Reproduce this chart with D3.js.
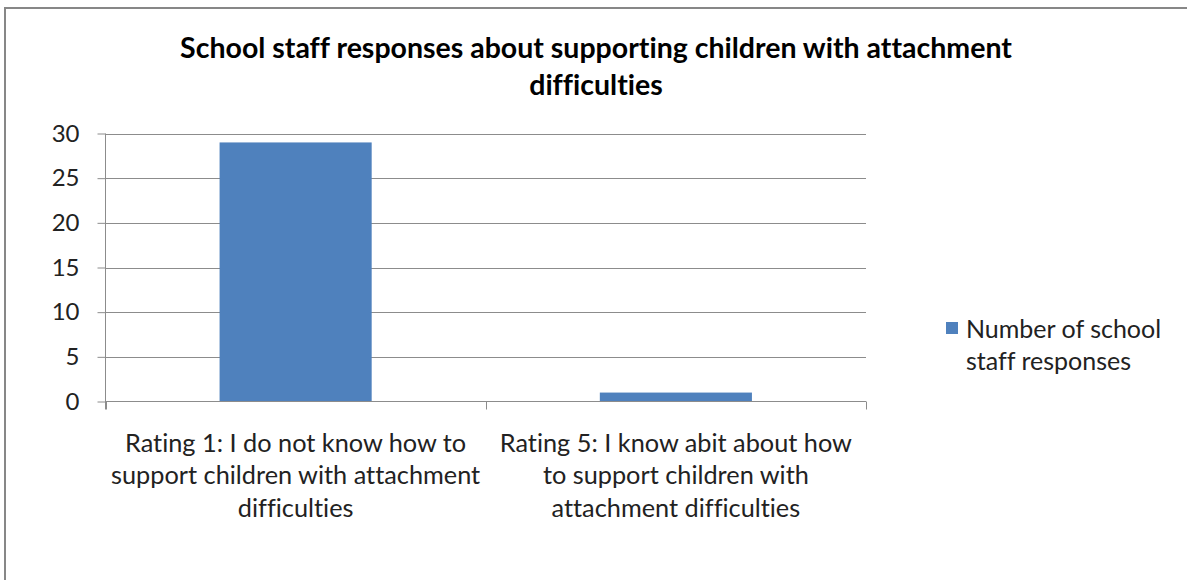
<!DOCTYPE html>
<html><head><meta charset="utf-8">
<script src="https://cdn.jsdelivr.net/npm/d3@7"></script>
<style>body{margin:0;background:#fff}svg{display:block}text{font-family:Lato,"Open Sans",sans-serif;font-variant-ligatures:none;font-feature-settings:"liga" 0,"clig" 0}</style>
</head><body><svg id="c" width="1187" height="580"></svg>
<script>
const titleLines = ["School staff responses about supporting children with attachment", "difficulties"];
const categories = ["Rating 1: I do not know how to support children with attachment difficulties", "Rating 5: I know abit about how to support children with attachment difficulties"];
const categoryLines = [["Rating 1: I do not know how to", "support children with attachment", "difficulties"], ["Rating 5: I know abit about how", "to support children with", "attachment difficulties"]];
const seriesName = "Number of school staff responses";
const legendLines = ["Number of school", "staff responses"];
const values = [29, 1];
const yTicks = [0, 5, 10, 15, 20, 25, 30];

const svg = d3.select("#c");
// chart border
svg.append("path").attr("d", "M5,580 V8 H1187").attr("fill", "none").attr("stroke", "#878787").attr("stroke-width", 2);

const x0 = 105.5, x1 = 866, yTop = 133.5, yBot = 401.5;
const x = d3.scaleBand().domain(categories).range([x0, x1]).paddingInner(0.6).paddingOuter(0.3);
const y = d3.scaleLinear().domain([0, 30]).range([yBot, yTop]);

// title
svg.append("text").attr("x", 596).attr("y", 58).attr("text-anchor", "middle")
  .style("font-size", "28.5px").style("font-weight", "bold").attr("fill", "#000")
  .selectAll("tspan").data(titleLines).join("tspan").attr("x", 596).attr("dy", (d, i) => i ? 37 : 0).text(d => d);

// gridlines
svg.append("g").selectAll("line").data(yTicks.filter(d => d > 0)).join("line")
  .attr("x1", x0).attr("x2", x1).attr("y1", d => Math.round(y(d)) + 0.5).attr("y2", d => Math.round(y(d)) + 0.5)
  .attr("stroke", "#8c8c8c").attr("stroke-width", 1);

// y axis
const ya = svg.append("g").attr("transform", `translate(${x0},0)`)
  .call(d3.axisLeft(y).tickValues(yTicks).tickSize(8).tickPadding(18));
ya.select(".domain").attr("stroke", "#8c8c8c").attr("d", `M0,${yTop}V${yBot + 8}`);
ya.selectAll(".tick line").attr("stroke", "#8c8c8c");
ya.selectAll(".tick text").style("font-size", "24px").style("font-family", "Lato, sans-serif").attr("fill", "#222");

// bars
svg.append("g").selectAll("rect").data(values).join("rect")
  .attr("x", (d, i) => x(categories[i])).attr("width", x.bandwidth())
  .attr("y", d => y(d)).attr("height", d => y(0) - y(d))
  .attr("fill", "#4f81bd");

// x axis
const xa = svg.append("g").attr("transform", `translate(0,${yBot})`);
xa.append("line").attr("x1", x0).attr("x2", x1).attr("stroke", "#8c8c8c");
const bnds = [x0, (x0 + x1) / 2, x1];
xa.selectAll("line.t").data(bnds).join("line").attr("class", "t")
  .attr("x1", d => Math.round(d) + 0.5).attr("x2", d => Math.round(d) + 0.5).attr("y1", 0).attr("y2", 8).attr("stroke", "#8c8c8c");
xa.selectAll("text").data(categories).join("text")
  .attr("text-anchor", "middle").attr("fill", "#222").style("font-size", "25.3px")
  .each(function (d, i) {
    const cx = x(d) + x.bandwidth() / 2;
    d3.select(this).selectAll("tspan").data(categoryLines[i]).join("tspan")
      .attr("x", cx).attr("y", (t, j) => 50 + j * 32.5).text(t => t);
  });

// legend
const lg = svg.append("g");
lg.append("rect").attr("x", 946).attr("y", 322).attr("width", 12).attr("height", 12).attr("fill", "#4f81bd");
lg.append("text").attr("fill", "#222").style("font-size", "25px")
  .selectAll("tspan").data(legendLines).join("tspan").attr("x", 966).attr("y", (d, i) => 338 + i * 32).text(d => d);
</script></body></html>
